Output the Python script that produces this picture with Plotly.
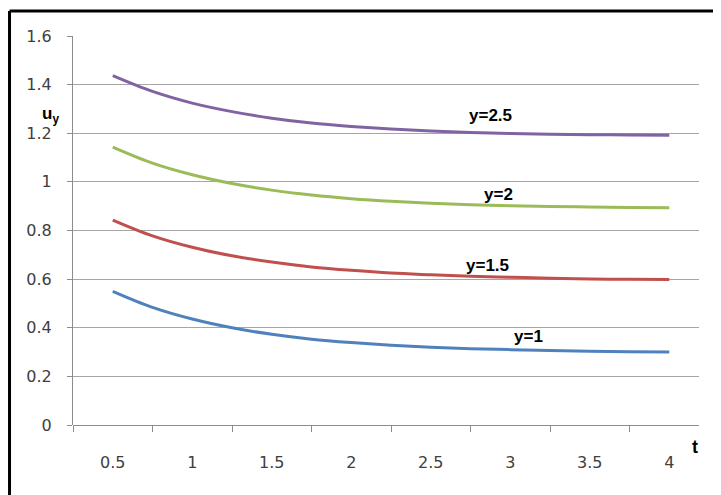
import plotly.graph_objects as go

t = [0.5, 0.75, 1.0, 1.25, 1.5, 1.75, 2.0, 2.25, 2.5, 2.75, 3.0, 3.25, 3.5, 3.75, 4.0]
u_y1 = [0.550, 0.484, 0.436, 0.400, 0.373, 0.353, 0.339, 0.328, 0.320, 0.314, 0.310, 0.306, 0.303, 0.301, 0.300]
u_y15 = [0.843, 0.778, 0.731, 0.696, 0.670, 0.650, 0.636, 0.625, 0.618, 0.612, 0.608, 0.604, 0.601, 0.599, 0.598]
u_y2 = [1.143, 1.077, 1.029, 0.993, 0.966, 0.946, 0.931, 0.920, 0.912, 0.906, 0.902, 0.899, 0.897, 0.895, 0.894]
u_y25 = [1.437, 1.372, 1.324, 1.289, 1.262, 1.242, 1.228, 1.217, 1.209, 1.203, 1.199, 1.196, 1.194, 1.193, 1.192]

series_names = ["y=1", "y=1.5", "y=2", "y=2.5"]
series_vals = [u_y1, u_y15, u_y2, u_y25]
colors = ["#4F81BD", "#C0504D", "#9BBB59", "#8064A2"]
label_pos = [(3.112, 0.362), (2.854, 0.658), (2.929, 0.950), (2.873, 1.271)]

x_ticks = [0.5, 1, 1.5, 2, 2.5, 3, 3.5, 4]
x_ticklabels = ["0.5", "1", "1.5", "2", "2.5", "3", "3.5", "4"]
x_boundaries = [0.25, 0.75, 1.25, 1.75, 2.25, 2.75, 3.25, 3.75]
y_ticks = [0, 0.2, 0.4, 0.6, 0.8, 1.0, 1.2, 1.4, 1.6]
y_ticklabels = ["0", "0.2", "0.4", "0.6", "0.8", "1", "1.2", "1.4", "1.6"]

fig = go.Figure()
for name, vals, c in zip(series_names, series_vals, colors):
    fig.add_trace(go.Scatter(x=t, y=vals, mode="lines", name=name,
                             line=dict(color=c, width=3, shape="spline")))

for name, (px, py) in zip(series_names, label_pos):
    fig.add_annotation(x=px, y=py, xref="x", yref="y", text="<b>%s</b>" % name,
                       showarrow=False, font=dict(family="Liberation Sans", size=17, color="#000"))

fig.add_annotation(x=-0.0527, y=0.831, xref="paper", yref="paper",
                   text="<b>u</b><sub><b>y</b></sub>", showarrow=False,
                   font=dict(family="Liberation Sans", size=17, color="#000"))
fig.add_annotation(x=1.001, y=-0.087, xref="paper", yref="paper",
                   text="<b>t</b>", showarrow=False,
                   font=dict(family="Liberation Sans", size=18, color="#000"))

# outer frame (top and left edges visible)
fig.add_shape(type="line", xref="paper", yref="paper", x0=-0.1014, x1=1.06, y0=1.064, y1=1.064,
              line=dict(color="black", width=3))
fig.add_shape(type="line", xref="paper", yref="paper", x0=-0.1014, x1=-0.1014, y0=1.064, y1=-0.2,
              line=dict(color="black", width=3))

fig.update_layout(
    width=713, height=487,
    margin=dict(l=65, r=22, t=28, b=70),
    paper_bgcolor="white", plot_bgcolor="white",
    showlegend=False,
    font=dict(family="DejaVu Sans", size=16, color="#404040"),
    xaxis=dict(range=[0.25, 4.187], tickvals=x_ticks, ticktext=x_ticklabels,
               ticks="", showgrid=False, zeroline=False, showline=False,
               ticklabelstandoff=26,
               minor=dict(tickvals=x_boundaries,
                          ticks="outside", ticklen=6, tickcolor="#8c8c8c", showgrid=False)),
    yaxis=dict(range=[0, 1.6], tickvals=y_ticks, ticktext=y_ticklabels,
               ticks="outside", ticklen=5, tickcolor="#8c8c8c",
               showgrid=True, gridcolor="#a6a6a6", gridwidth=1,
               zeroline=True, zerolinecolor="#8c8c8c", zerolinewidth=1,
               showline=True, linecolor="#8c8c8c", linewidth=1,
               ticklabelstandoff=12),
)

fig.write_html("out.html")
